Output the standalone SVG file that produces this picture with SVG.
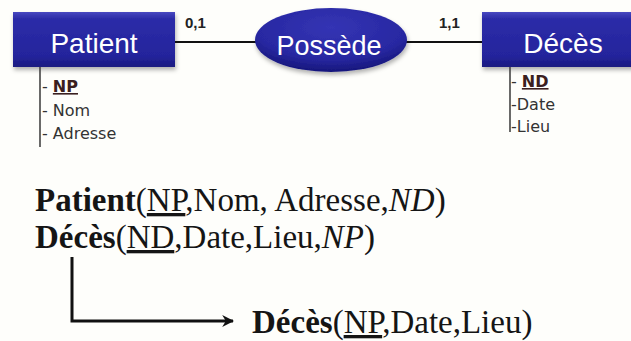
<svg xmlns="http://www.w3.org/2000/svg" width="631" height="341" viewBox="0 0 631 341">
<defs>
<linearGradient id="boxg" x1="0" y1="0" x2="0" y2="1">
<stop offset="0" stop-color="#4848c0"/>
<stop offset="0.12" stop-color="#2c2ca8"/>
<stop offset="0.8" stop-color="#24249c"/>
<stop offset="1" stop-color="#1a1a80"/>
</linearGradient>
<radialGradient id="ellg" cx="0.5" cy="0.3" r="0.7">
<stop offset="0" stop-color="#3434b4"/>
<stop offset="0.7" stop-color="#2828a2"/>
<stop offset="1" stop-color="#16167a"/>
</radialGradient>
<filter id="sh" x="-10%" y="-20%" width="120%" height="150%">
<feDropShadow dx="1" dy="3" stdDeviation="2" flood-color="#000" flood-opacity="0.3"/>
</filter>
<marker id="arr" viewBox="0 0 10 10" refX="9" refY="5" markerWidth="4" markerHeight="4" orient="auto" markerUnits="strokeWidth">
<path d="M0,0 L10,5 L0,10 L3,5 Z" fill="#111"/>
</marker>
<style>
.box{fill:url(#boxg);filter:url(#sh)}
.lbl{font-family:"Liberation Sans",Arial,sans-serif;fill:#fff;text-anchor:middle}
.card{font-family:"Liberation Sans",Arial,sans-serif;font-size:15px;font-weight:bold;fill:#222}
.attr{font-family:"DejaVu Sans",Verdana,sans-serif;font-size:16px;fill:#333}
.key{font-weight:bold;text-decoration:underline;fill:#3a2020}
.rel{font-family:"Liberation Serif","Times New Roman",serif;font-size:33px;fill:#151515}
.b{font-weight:bold}
.u{text-decoration:underline}
.i{font-style:italic}
.conn{stroke:#111;stroke-width:2;fill:none}
.tick{stroke:#444;stroke-width:1.6}
</style>
</defs>
<rect width="631" height="341" fill="#fefefb"/>

<g id="connectors">
<line class="conn" x1="175" y1="42" x2="256" y2="42"/>
<line class="conn" x1="405" y1="42" x2="483" y2="42"/>
<text class="card" x="185" y="28">0,1</text>
<text class="card" x="439" y="28">1,1</text>
<path d="M72,257 L72,321 L233,321" stroke="#111" stroke-width="3" fill="none" marker-end="url(#arr)"/>
</g>

<g id="patient">
<rect class="box" x="13" y="12" width="162" height="55"/>
<text class="lbl" x="94" y="53" font-size="28">Patient</text>
<line class="tick" x1="40" y1="67" x2="40" y2="147"/>
<text class="attr" x="42" y="92">- <tspan class="key">NP</tspan></text>
<text class="attr" x="42" y="116">- Nom</text>
<text class="attr" x="42" y="139">- Adresse</text>
</g>

<g id="possede">
<ellipse cx="331" cy="40" rx="76" ry="32" fill="url(#ellg)" filter="url(#sh)"/>
<text class="lbl" x="329" y="55" font-size="27">Possède</text>
</g>

<g id="deces">
<rect class="box" x="482" y="12" width="160" height="55"/>
<text class="lbl" x="563" y="53" font-size="28">Décès</text>
<line class="tick" x1="510" y1="67" x2="510" y2="132"/>
<text class="attr" x="511" y="87">- <tspan class="key">ND</tspan></text>
<text class="attr" x="511" y="110">-Date</text>
<text class="attr" x="511" y="132">-Lieu</text>
</g>

<g id="relations">
<text class="rel" x="35" y="211"><tspan class="b">Patient</tspan>(<tspan class="u">NP</tspan>,Nom, Adresse,<tspan class="i">ND</tspan>)</text>
<text class="rel" x="35" y="248"><tspan class="b">Décès</tspan>(<tspan class="u">ND</tspan>,Date,Lieu,<tspan class="i">NP</tspan>)</text>
<text class="rel" x="252" y="333"><tspan class="b">Décès</tspan>(<tspan class="u">NP</tspan>,Date,Lieu)</text>
</g>
</svg>
